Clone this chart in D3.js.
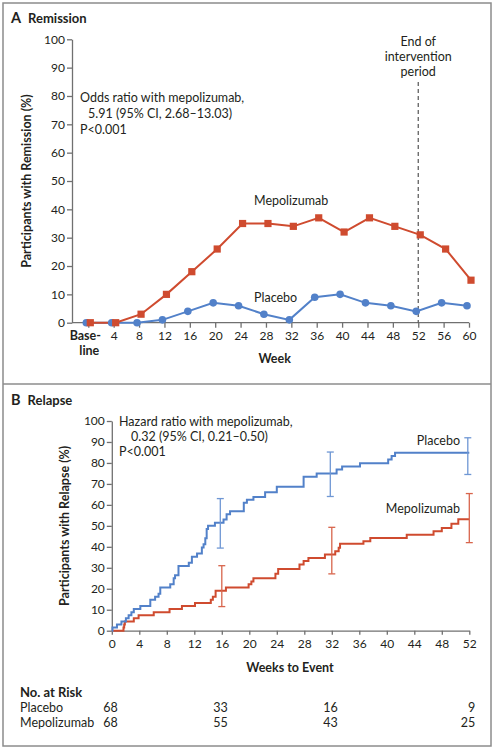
<!DOCTYPE html>
<html><head><meta charset="utf-8">
<script src="https://cdn.jsdelivr.net/npm/d3@7"></script>
<style>
body{margin:0;background:#fff;}
svg text{font-family:Lato,"Open Sans",sans-serif;fill:#231f20;}
</style></head>
<body>
<svg id="c" width="497" height="750"></svg>
<script>
// ---------- Panel A data ----------
const weeksA = [0,4,8,12,16,20,24,28,32,36,40,44,48,52,56,60];
const mepoRemission = [0,0,3,10,18,26,35,35,34,37,32,37,34,31,26,15];
const placeboRemission = [0,0,0,1,4,7,6,3,1,9,10,7,6,4,7,6];
const yTicksA = [0,10,20,30,40,50,60,70,80,90,100];

// ---------- Panel B data ----------
const placeboKMWeeks = [0,0.1,0.75,1.4,2.05,2.45,2.85,3.2,4.15,5.6,6.3,6.8,7.05,8.5,9.0,9.2,9.7,11.2,11.65,12.4,13.1,13.35,13.6,13.8,14.0,15.0,16.25,16.7,17.2,19.2,19.65,20.6,22.3,24.0,27.9,29.8,32.7,33.5,36.1,40.2,40.7,41.2,52];
const placeboKM = [0,1.5,2.9,4.4,5.9,7.4,8.8,10.3,11.8,14.7,16.2,17.6,20.6,22.1,25.0,26.5,30.9,32.4,35.3,36.8,39.7,41.2,44.1,48.5,50.0,51.5,53.0,55.5,57.0,61.0,62.5,63.7,66.0,68.6,73.4,75.0,76.9,78.3,79.8,81.7,83.3,84.8,84.8];
const mepoKMWeeks = [0,1.7,1.8,1.9,3.2,3.9,6.1,8.4,10.2,12.1,14.4,14.7,15.1,16.6,19.9,20.3,20.6,23.8,24.2,27.3,27.9,28.6,31.0,32.5,33.0,33.2,36.6,37.6,42.9,46.8,48.0,49.4,50.4,52];
const mepoKM = [0,1.5,2.9,4.4,5.9,7.4,8.8,10.3,11.8,13.2,14.7,16.2,19.1,20.6,22.1,23.5,25.0,27.2,29.4,31.6,33.2,34.7,36.3,37.9,39.5,41.5,42.7,44.2,45.8,47.4,49.0,51.0,53.2,53.2];
const ciWeeks = [16,32,52];
const placeboCILow = [39.4,64.0,74.5];
const placeboCIHigh = [63.0,85.2,92.0];
const mepoCILow = [11.5,27.1,42.0];
const mepoCIHigh = [31.0,49.3,65.4];
const xTicksB = [0,4,8,12,16,20,24,28,32,36,40,44,48,52];
const yTicksB = [0,10,20,30,40,50,60,70,80,90,100];
const riskWeeks = [0,16,32,52];
const placeboRisk = [68,33,16,9];
const mepoRisk = [68,55,43,25];

const RED = "#cf4b2f", BLUE = "#5281c9", AX = "#707070";
const svg = d3.select("#c");

// frame
svg.append("rect").attr("x",3).attr("y",3).attr("width",488).attr("height",743)
  .attr("fill","none").attr("stroke","#8c8c8c").attr("stroke-width",1.5);
svg.append("line").attr("x1",3).attr("x2",491).attr("y1",384).attr("y2",384)
  .attr("stroke","#8c8c8c").attr("stroke-width",1.5);

function styleAxis(g){
  g.selectAll("path,line").attr("stroke",AX).attr("stroke-width",1.3);
  g.selectAll("text").attr("font-size",12).attr("fill","#231f20").style("font-family","Lato");
}

// ================= Panel A =================
const title = (x,y,letter,word)=>{
  const t = svg.append("text").attr("x",x).attr("y",y).attr("font-weight","bold");
  t.append("tspan").attr("font-size",14.5).text(letter);
  t.append("tspan").attr("dx",7).attr("font-size",13).text(word);
};
title(11,23,"A","Remission");

const xA = d3.scaleLinear().domain([0,60]).range([88.3,469]);
const yA = d3.scaleLinear().domain([0,100]).range([322.7,39.3]);
const axisXA = 72;

const gyA = svg.append("g").attr("transform",`translate(${axisXA},0)`)
  .call(d3.axisLeft(yA).tickValues(yTicksA).tickSize(5).tickSizeOuter(0).tickPadding(2));
styleAxis(gyA);

const gxA = svg.append("g").attr("transform",`translate(0,${yA(0)})`)
  .call(d3.axisBottom(xA).tickValues(weeksA).tickSize(5).tickSizeOuter(0).tickPadding(4)
    .tickFormat(d=> d===0 ? "" : d));
styleAxis(gxA);
gxA.select(".domain").remove();
svg.append("line").attr("x1",axisXA).attr("x2",xA(60)).attr("y1",yA(0)).attr("y2",yA(0))
  .attr("stroke",AX).attr("stroke-width",1.3);
const bl = svg.append("text").attr("x",xA(0)).attr("y",340).attr("text-anchor","middle")
  .attr("font-size",12.5).attr("font-weight","bold");
bl.append("tspan").attr("x",xA(0)-3).text("Base-");
bl.append("tspan").attr("x",xA(0)+1).attr("dy",14.5).text("line");

svg.append("text").attr("x",xA(30)-4).attr("y",363).attr("text-anchor","middle")
  .attr("font-size",12.5).attr("font-weight","bold").text("Week");
svg.append("text").attr("transform",`translate(31,${yA(50)}) rotate(-90)`)
  .attr("text-anchor","middle").attr("font-size",12.5).attr("font-weight","bold")
  .text("Participants with Remission (%)");

// end of intervention
svg.append("line").attr("x1",xA(52)).attr("x2",xA(52)).attr("y1",82).attr("y2",yA(0))
  .attr("stroke","#555").attr("stroke-width",1.2).attr("stroke-dasharray","4,3");
[["End of",46],["intervention",61],["period",76]].forEach(([s,y])=>{
  svg.append("text").attr("x",xA(52)).attr("y",y).attr("text-anchor","middle").attr("font-size",12.5).text(s);
});

// annotation
const ann = svg.append("text").attr("font-size",12.5);
ann.append("tspan").attr("x",80).attr("y",102).text("Odds ratio with mepolizumab,");
ann.append("tspan").attr("x",88).attr("y",118).text("5.91 (95% CI, 2.68\u201313.03)");
ann.append("tspan").attr("x",80).attr("y",134).text("P<0.001");

// lines
const lineA = off => d3.line().x(d=>xA(d[0])+off).y(d=>yA(d[1]));
const mepoPts = weeksA.map((w,i)=>[w,mepoRemission[i]]);
const placPts = weeksA.map((w,i)=>[w,placeboRemission[i]]);
svg.append("path").attr("d",lineA(-2)(placPts)).attr("fill","none").attr("stroke",BLUE).attr("stroke-width",2);
svg.append("path").attr("d",lineA(2)(mepoPts)).attr("fill","none").attr("stroke",RED).attr("stroke-width",2);
svg.selectAll(".pc").data(placPts).enter().append("circle")
  .attr("cx",d=>xA(d[0])-2).attr("cy",d=>yA(d[1])).attr("r",3.8).attr("fill",BLUE);
svg.selectAll(".ms").data(mepoPts).enter().append("rect")
  .attr("x",d=>xA(d[0])+2-3.6).attr("y",d=>yA(d[1])-3.6).attr("width",7.2).attr("height",7.2).attr("fill",RED);

svg.append("text").attr("x",254).attr("y",205).attr("font-size",12.5).text("Mepolizumab");
svg.append("text").attr("x",254).attr("y",302).attr("font-size",12.5).text("Placebo");

// ================= Panel B =================
title(11,405,"B","Relapse");
const xB = d3.scaleLinear().domain([0,52]).range([111.8,469.3]);
const yB = d3.scaleLinear().domain([0,100]).range([630.7,421]);

const gyB = svg.append("g").attr("transform",`translate(${xB(0)},0)`)
  .call(d3.axisLeft(yB).tickValues(yTicksB).tickSize(5).tickSizeOuter(0).tickPadding(2));
styleAxis(gyB);
const gxB = svg.append("g").attr("transform",`translate(0,${yB(0)})`)
  .call(d3.axisBottom(xB).tickValues(xTicksB).tickSize(4).tickSizeOuter(0).tickPadding(5));
styleAxis(gxB);

svg.append("text").attr("x",290).attr("y",672).attr("text-anchor","middle")
  .attr("font-size",12.5).attr("font-weight","bold").text("Weeks to Event");
svg.append("text").attr("transform",`translate(69,${yB(50)}) rotate(-90)`)
  .attr("text-anchor","middle").attr("font-size",12.5).attr("font-weight","bold")
  .text("Participants with Relapse (%)");

const annB = svg.append("text").attr("font-size",12.5);
annB.append("tspan").attr("x",119).attr("y",426).text("Hazard ratio with mepolizumab,");
annB.append("tspan").attr("x",131).attr("y",441).text("0.32 (95% CI, 0.21\u20130.50)");
annB.append("tspan").attr("x",119).attr("y",456).text("P<0.001");

const stepLine = d3.line().curve(d3.curveStepAfter).x(d=>xB(d[0])).y(d=>yB(d[1]));
svg.append("path").attr("d",stepLine(mepoKMWeeks.map((w,i)=>[w,mepoKM[i]])))
  .attr("fill","none").attr("stroke",RED).attr("stroke-width",2);
svg.append("path").attr("d",stepLine(placeboKMWeeks.map((w,i)=>[w,placeboKM[i]])))
  .attr("fill","none").attr("stroke",BLUE).attr("stroke-width",2);

function ciBars(lo,hi,color,off){
  ciWeeks.forEach((w,i)=>{
    const x = xB(w)+off;
    const g = svg.append("g").attr("stroke",color).attr("stroke-width",1.3);
    g.append("line").attr("x1",x).attr("x2",x).attr("y1",yB(lo[i])).attr("y2",yB(hi[i]));
    g.append("line").attr("x1",x-3.5).attr("x2",x+3.5).attr("y1",yB(lo[i])).attr("y2",yB(lo[i]));
    g.append("line").attr("x1",x-3.5).attr("x2",x+3.5).attr("y1",yB(hi[i])).attr("y2",yB(hi[i]));
  });
}
ciBars(placeboCILow,placeboCIHigh,"#6f97d4",-1.5);
ciBars(mepoCILow,mepoCIHigh,"#d8654c",0);

svg.append("text").attr("x",460).attr("y",445).attr("text-anchor","end").attr("font-size",12.5).text("Placebo");
svg.append("text").attr("x",460).attr("y",513).attr("text-anchor","end").attr("font-size",12.5).text("Mepolizumab");

// risk table
svg.append("text").attr("x",20).attr("y",697).attr("font-size",13).attr("font-weight","bold").text("No. at Risk");
svg.append("text").attr("x",20).attr("y",712).attr("font-size",12.5).text("Placebo");
svg.append("text").attr("x",20).attr("y",727).attr("font-size",12.5).text("Mepolizumab");
riskWeeks.forEach((w,i)=>{
  svg.append("text").attr("x",xB(w)+6).attr("y",712).attr("text-anchor","end").attr("font-size",12.5).text(placeboRisk[i]);
  svg.append("text").attr("x",xB(w)+6).attr("y",727).attr("text-anchor","end").attr("font-size",12.5).text(mepoRisk[i]);
});
</script>
</body></html>
